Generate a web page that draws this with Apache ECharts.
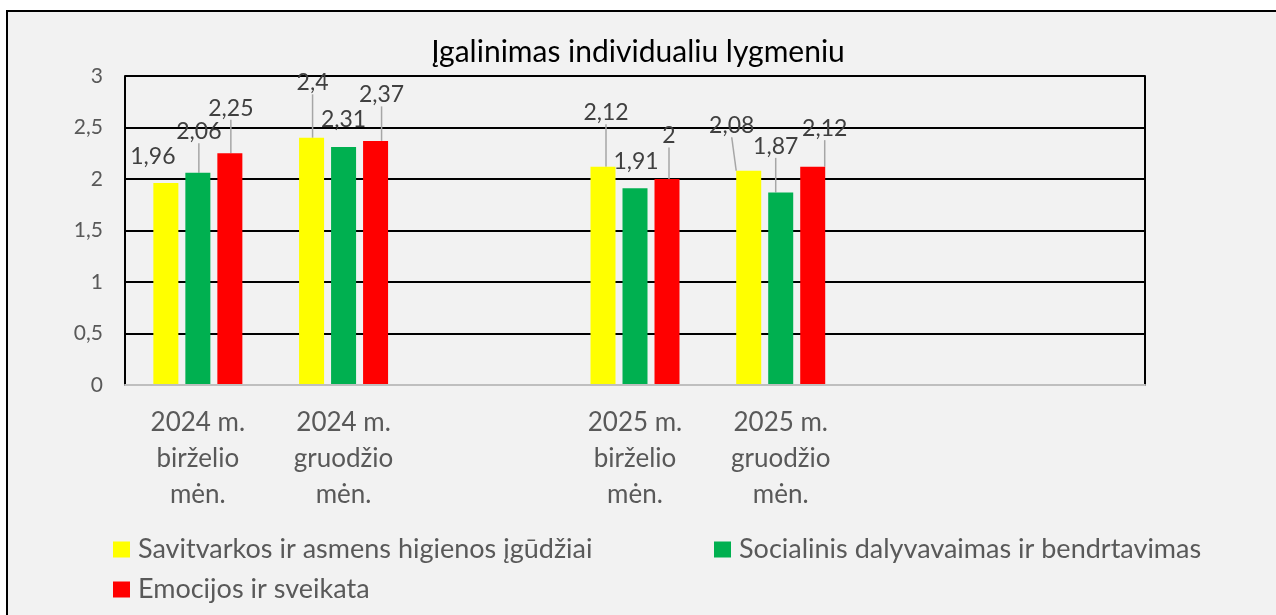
<!DOCTYPE html>
<html>
<head>
<meta charset="utf-8">
<script src="https://cdn.jsdelivr.net/npm/echarts@6/dist/echarts.min.js"></script>
<style>
  html, body { margin: 0; padding: 0; background: #fff; }
  #chart { width: 1276px; height: 615px; }
</style>
</head>
<body>
<div id="chart"></div>
<script>
// duomenys
var categories = ['2024 m.\nbirželio\nmėn.', '2024 m.\ngruodžio\nmėn.', '', '2025 m.\nbirželio\nmėn.', '2025 m.\ngruodžio\nmėn.', '', ''];
var seriesNames = ['Savitvarkos ir asmens higienos įgūdžiai', 'Socialinis dalyvavaimas ir bendrtavimas', 'Emocijos ir sveikata'];
var savitvarka = [1.96, 2.4, null, 2.12, 2.08, null, null];
var socialinis = [2.06, 2.31, null, 1.91, 1.87, null, null];
var emocijos = [2.25, 2.37, null, 2.0, 2.12, null, null];
var yTicks = [0, 0.5, 1, 1.5, 2, 2.5, 3];

// etikečių poslinkiai (nuo stulpelio viršaus)
var labelDx = [[-13, 1, 0, 3, -17, 0, 0], [1, 0, 0, 1, -5, 0, 0], [1, 6, 0, 2, 12, 0, 0]];
var labelDy = [[-27, -55, 0, -54, -45, 0, 0], [-41, -27, 0, -27, -46, 0, 0], [-45, -46, 0, -43, -38, 0, 0]];
var showLine = [[false, true, false, true, true, false, false], [true, false, false, false, true, false, false], [true, true, false, true, true, false, false]];

var colors = ['#ffff00', '#00b050', '#ff0000'];
var font = 'Lato, "Noto Sans", sans-serif';

function comma(v) {
    return String(v).replace('.', ',');
}

function makeSeries(idx, values) {
    return {
        name: seriesNames[idx],
        type: 'bar',
        barWidth: 25,
        barGap: '28%',
        itemStyle: { color: colors[idx] },
        data: values.map(function (v, i) {
            return {
                value: v,
                labelLine: { show: showLine[idx][i] }
            };
        }),
        label: {
            show: true,
            position: 'top',
            color: '#404040',
            fontFamily: font,
            fontSize: 23,
            formatter: function (p) {
                return p.value == null ? '' : comma(p.value);
            }
        },
        labelLine: {
            show: true,
            lineStyle: { color: '#a6a6a6', width: 1.5 }
        },
        labelLayout: function (p) {
            return {
                x: p.rect.x + p.rect.width / 2 + labelDx[idx][p.dataIndex],
                y: p.rect.y + labelDy[idx][p.dataIndex],
                align: 'center',
                verticalAlign: 'middle'
            };
        }
    };
}

function legendItem(name, left, top) {
    return {
        data: [name],
        left: left,
        top: top,
        icon: 'rect',
        itemWidth: 17,
        itemHeight: 16,
        textStyle: { color: '#595959', fontFamily: font, fontSize: 27, padding: [0, 0, 0, 3] }
    };
}

var myChart = echarts.init(document.getElementById('chart'));
var option = {
    backgroundColor: '#fff',
    animation: false,
    graphic: [{
        type: 'rect',
        left: 6,
        top: 10,
        z: -100,
        shape: { width: 1300, height: 700 },
        style: { fill: '#f2f2f2', stroke: '#000', lineWidth: 2 }
    }],
    title: {
        text: 'Įgalinimas individualiu lygmeniu',
        left: 'center',
        top: 32,
        textStyle: {
            color: '#000',
            fontFamily: font,
            fontSize: 30,
            fontWeight: 'normal'
        }
    },
    grid: {
        left: 125,
        right: 131,
        top: 76,
        bottom: 230
    },
    legend: [
        legendItem(seriesNames[0], 108, 531),
        legendItem(seriesNames[1], 709, 531),
        legendItem(seriesNames[2], 108, 571)
    ],
    xAxis: {
        type: 'category',
        data: categories,
        z: 5,
        axisLine: { show: true, lineStyle: { color: '#bfbfbf', width: 2 } },
        axisTick: { show: false },
        axisLabel: {
            color: '#595959',
            fontFamily: font,
            fontSize: 26,
            lineHeight: 36,
            margin: 20,
            interval: 0
        }
    },
    yAxis: [
        {
            type: 'value',
            min: 0,
            max: 3,
            interval: 0.5,
            axisLine: { show: true, lineStyle: { color: '#000', width: 2 } },
            axisTick: { show: false },
            splitLine: { show: true, lineStyle: { color: '#000', width: 2 } },
            axisLabel: {
                color: '#595959',
                fontFamily: font,
                fontSize: 21,
                margin: 22,
                formatter: function (v) {
                    return yTicks.indexOf(v) >= 0 ? comma(v) : '';
                }
            }
        },
        {
            type: 'value',
            position: 'right',
            min: 0,
            max: 3,
            interval: 0.5,
            axisLine: { show: true, lineStyle: { color: '#000', width: 2 } },
            axisTick: { show: false },
            splitLine: { show: false },
            axisLabel: { show: false }
        }
    ],
    series: [
        makeSeries(0, savitvarka),
        makeSeries(1, socialinis),
        makeSeries(2, emocijos)
    ]
};

if (option && typeof option === "object") {
    myChart.setOption(option, true);
}
</script>
</body>
</html>
